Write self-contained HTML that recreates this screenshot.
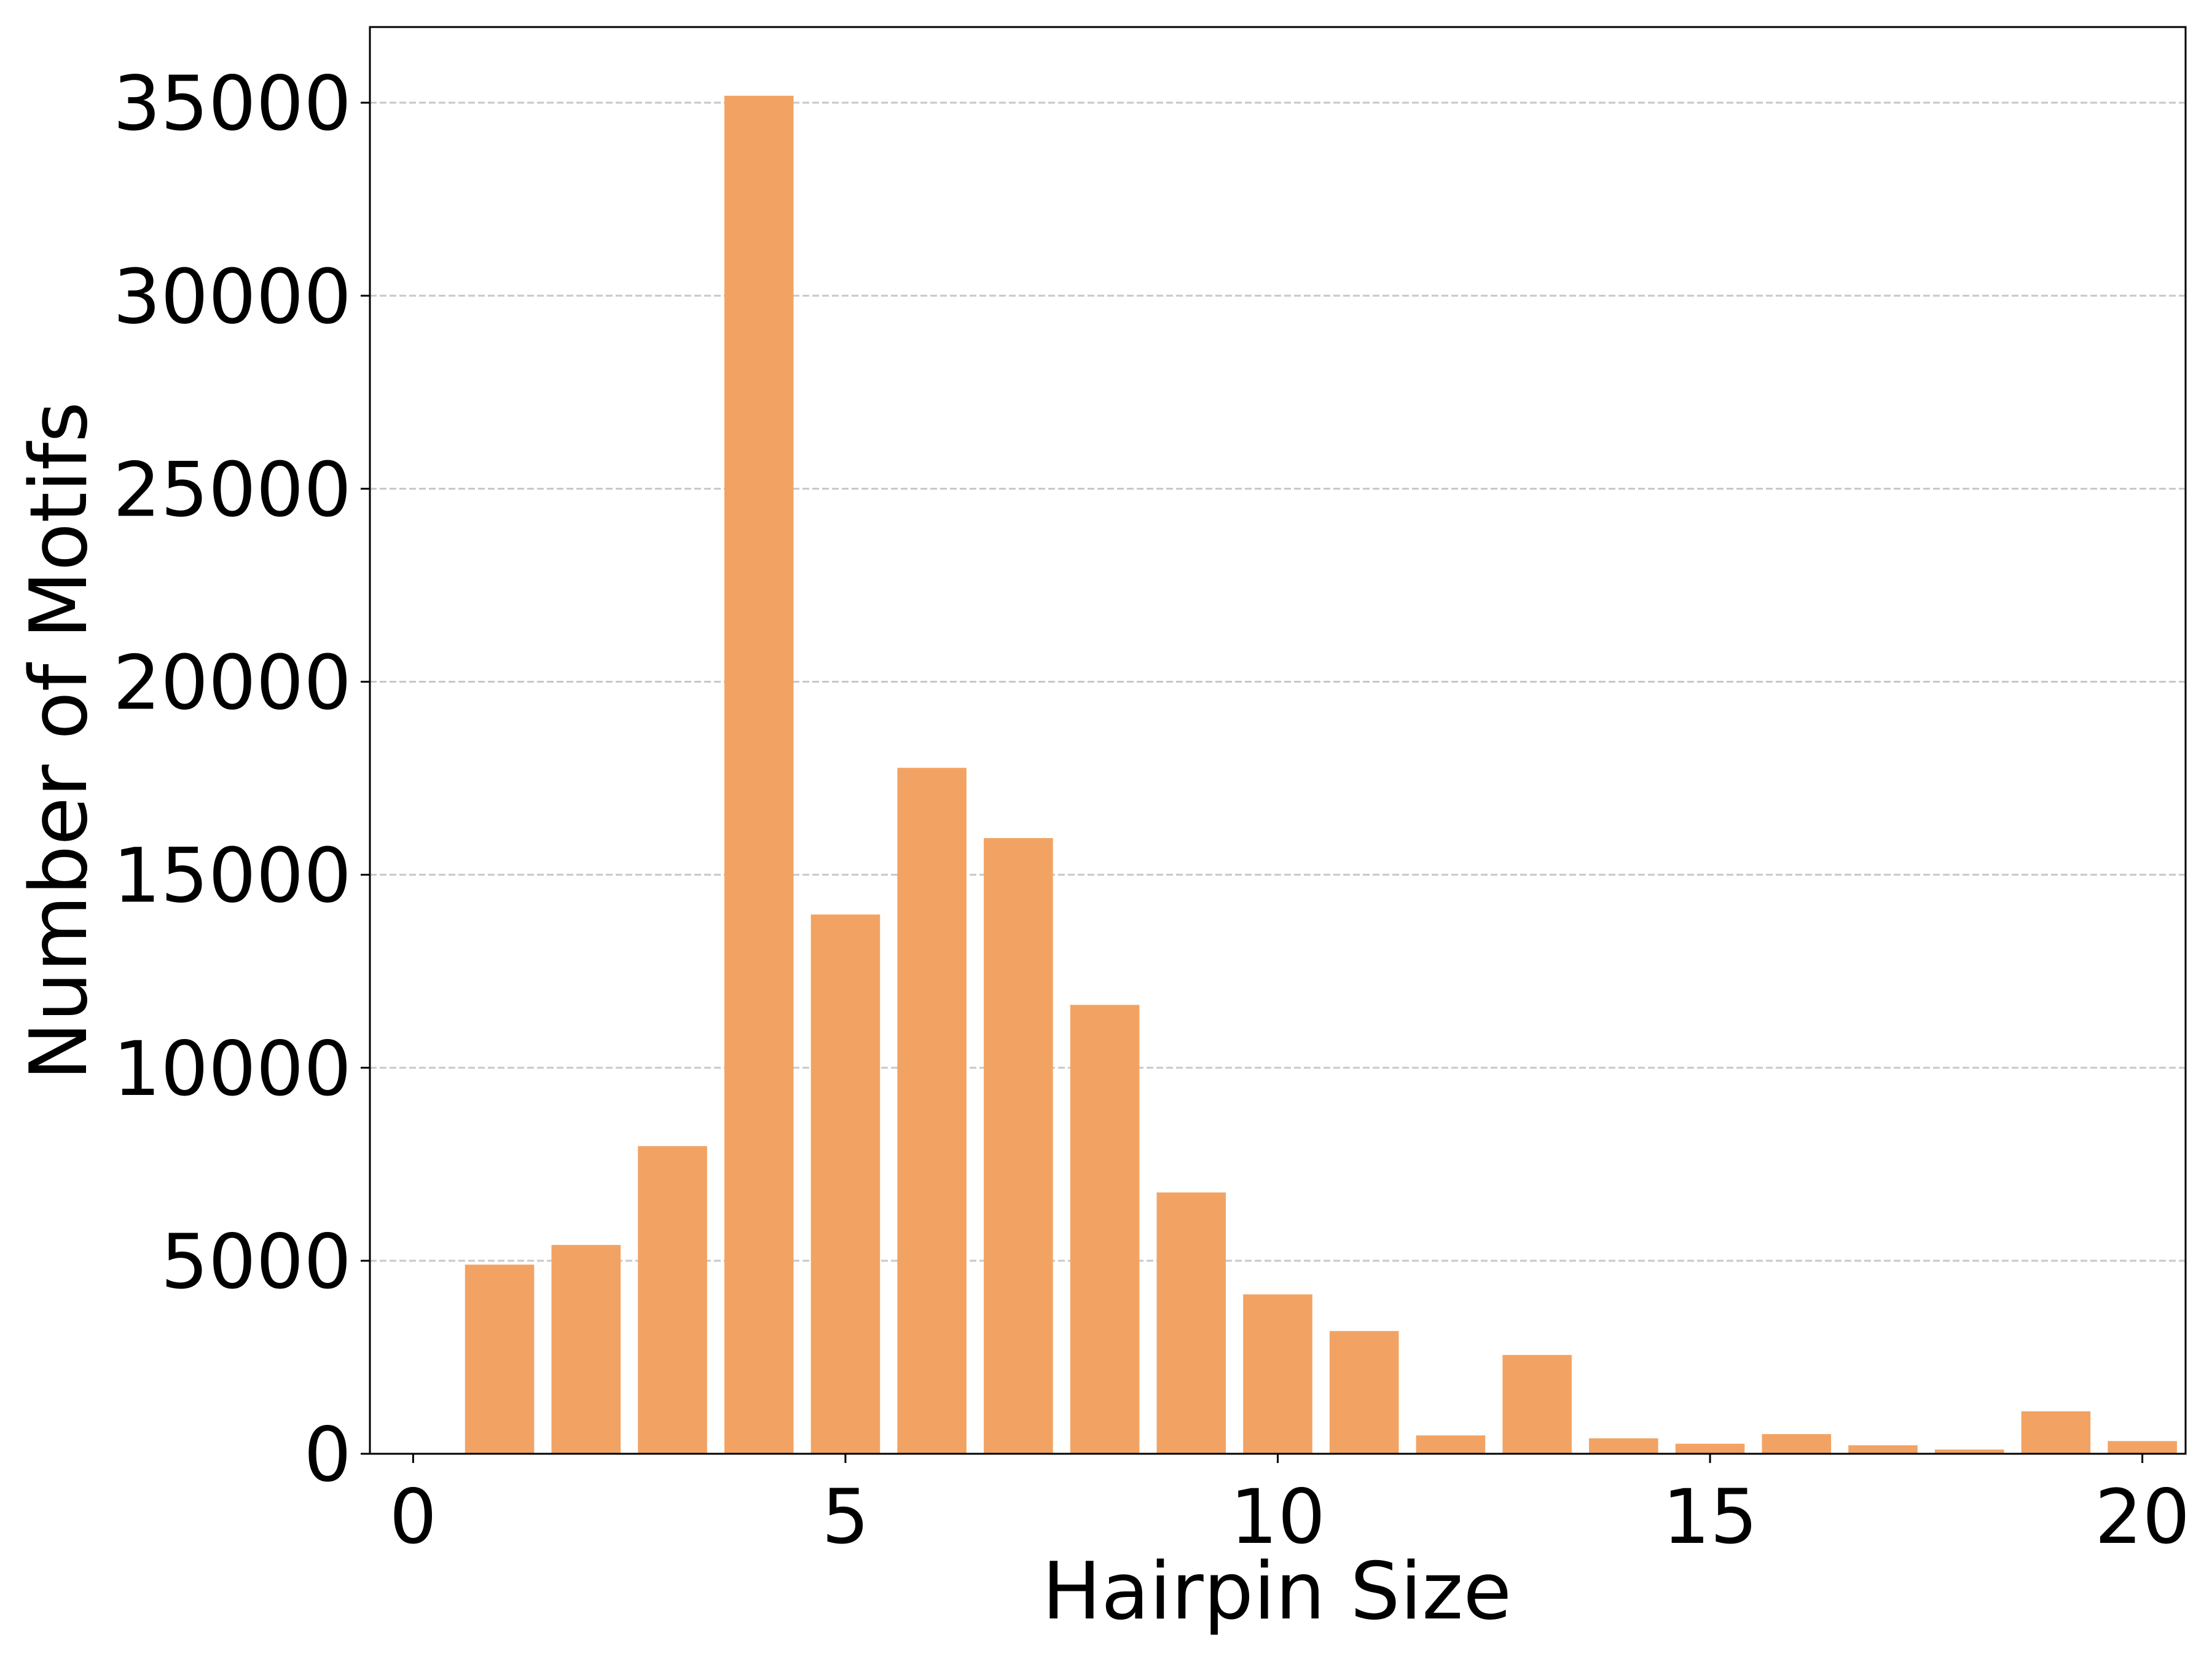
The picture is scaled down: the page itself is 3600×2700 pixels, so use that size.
<!DOCTYPE html>
<html><head><meta charset="utf-8"><style>
html,body{margin:0;padding:0;background:#fff;}
svg{display:block;}
text{font-family:"DejaVu Sans","Liberation Sans",sans-serif;fill:#000;}
</style></head><body>
<svg id="chart" width="3600" height="2700" viewBox="0 0 3600 2700" xmlns="http://www.w3.org/2000/svg">
<g id="grid"></g>
<g id="bars"></g>
<g id="axes"></g>
<text x="2078" y="2634" font-size="128" text-anchor="middle">Hairpin Size</text>
<text transform="translate(140,1206) rotate(-90)" font-size="128" text-anchor="middle">Number of Motifs</text>
</svg>
<script>
const categories = [0,1,2,3,4,5,6,7,8,9,10,11,12,13,14,15,16,17,18,19,20];
const counts = [0,4900,5410,7970,35180,13970,17770,15950,11630,6770,4130,3180,475,2560,400,260,510,220,110,1100,330];
const xTicks = [0,5,10,15,20];
const yTicks = [0,5000,10000,15000,20000,25000,30000,35000];

const L=602,R=3557,T=44,B=2366;
const xMin=-0.5,xMax=20.5,yMax=36960;
const NS='http://www.w3.org/2000/svg';
function xs(v){return L+(v-xMin)/(xMax-xMin)*(R-L);}
function ys(v){return B-v/yMax*(B-T);}
function mk(tag,attrs,parent){const e=document.createElementNS(NS,tag);for(const k in attrs)e.setAttribute(k,attrs[k]);parent.appendChild(e);return e;}
const grid=document.getElementById('grid'),bars=document.getElementById('bars'),axes=document.getElementById('axes');
yTicks.forEach(t=>{
  if(t>0){const g=mk('line',{x1:L,x2:R,y1:ys(t),y2:ys(t),stroke:'#c8c8c8','stroke-width':3,'stroke-dasharray':'11 5'},grid);
  
  }
  const tk=mk('line',{x1:L-15,x2:L,y1:ys(t),y2:ys(t),stroke:'#000','stroke-width':3},axes);
  
  
  const lb=mk('text',{x:L-30,y:ys(t)+44,'font-size':122,'text-anchor':'end'},axes);
  lb.textContent=t;
  
  
});
const bw=0.8;
categories.forEach((c,i)=>{
  const v=counts[i];
  const r=mk('rect',{x:xs(c-bw/2),y:ys(v),width:xs(c+bw/2)-xs(c-bw/2),height:B-ys(v),fill:'#f2a363'},bars);
  
  
});
xTicks.forEach(t=>{
  const tk=mk('line',{x1:xs(t),x2:xs(t),y1:B,y2:B+15,stroke:'#000','stroke-width':3},axes);
  
  
  const lb=mk('text',{x:xs(t),y:B+145,'font-size':122,'text-anchor':'middle'},axes);
  lb.textContent=t;
  
  
});
const fr=mk('rect',{x:L,y:T,width:R-L,height:B-T,fill:'none',stroke:'#000','stroke-width':3},axes);


</script>
</body></html>
